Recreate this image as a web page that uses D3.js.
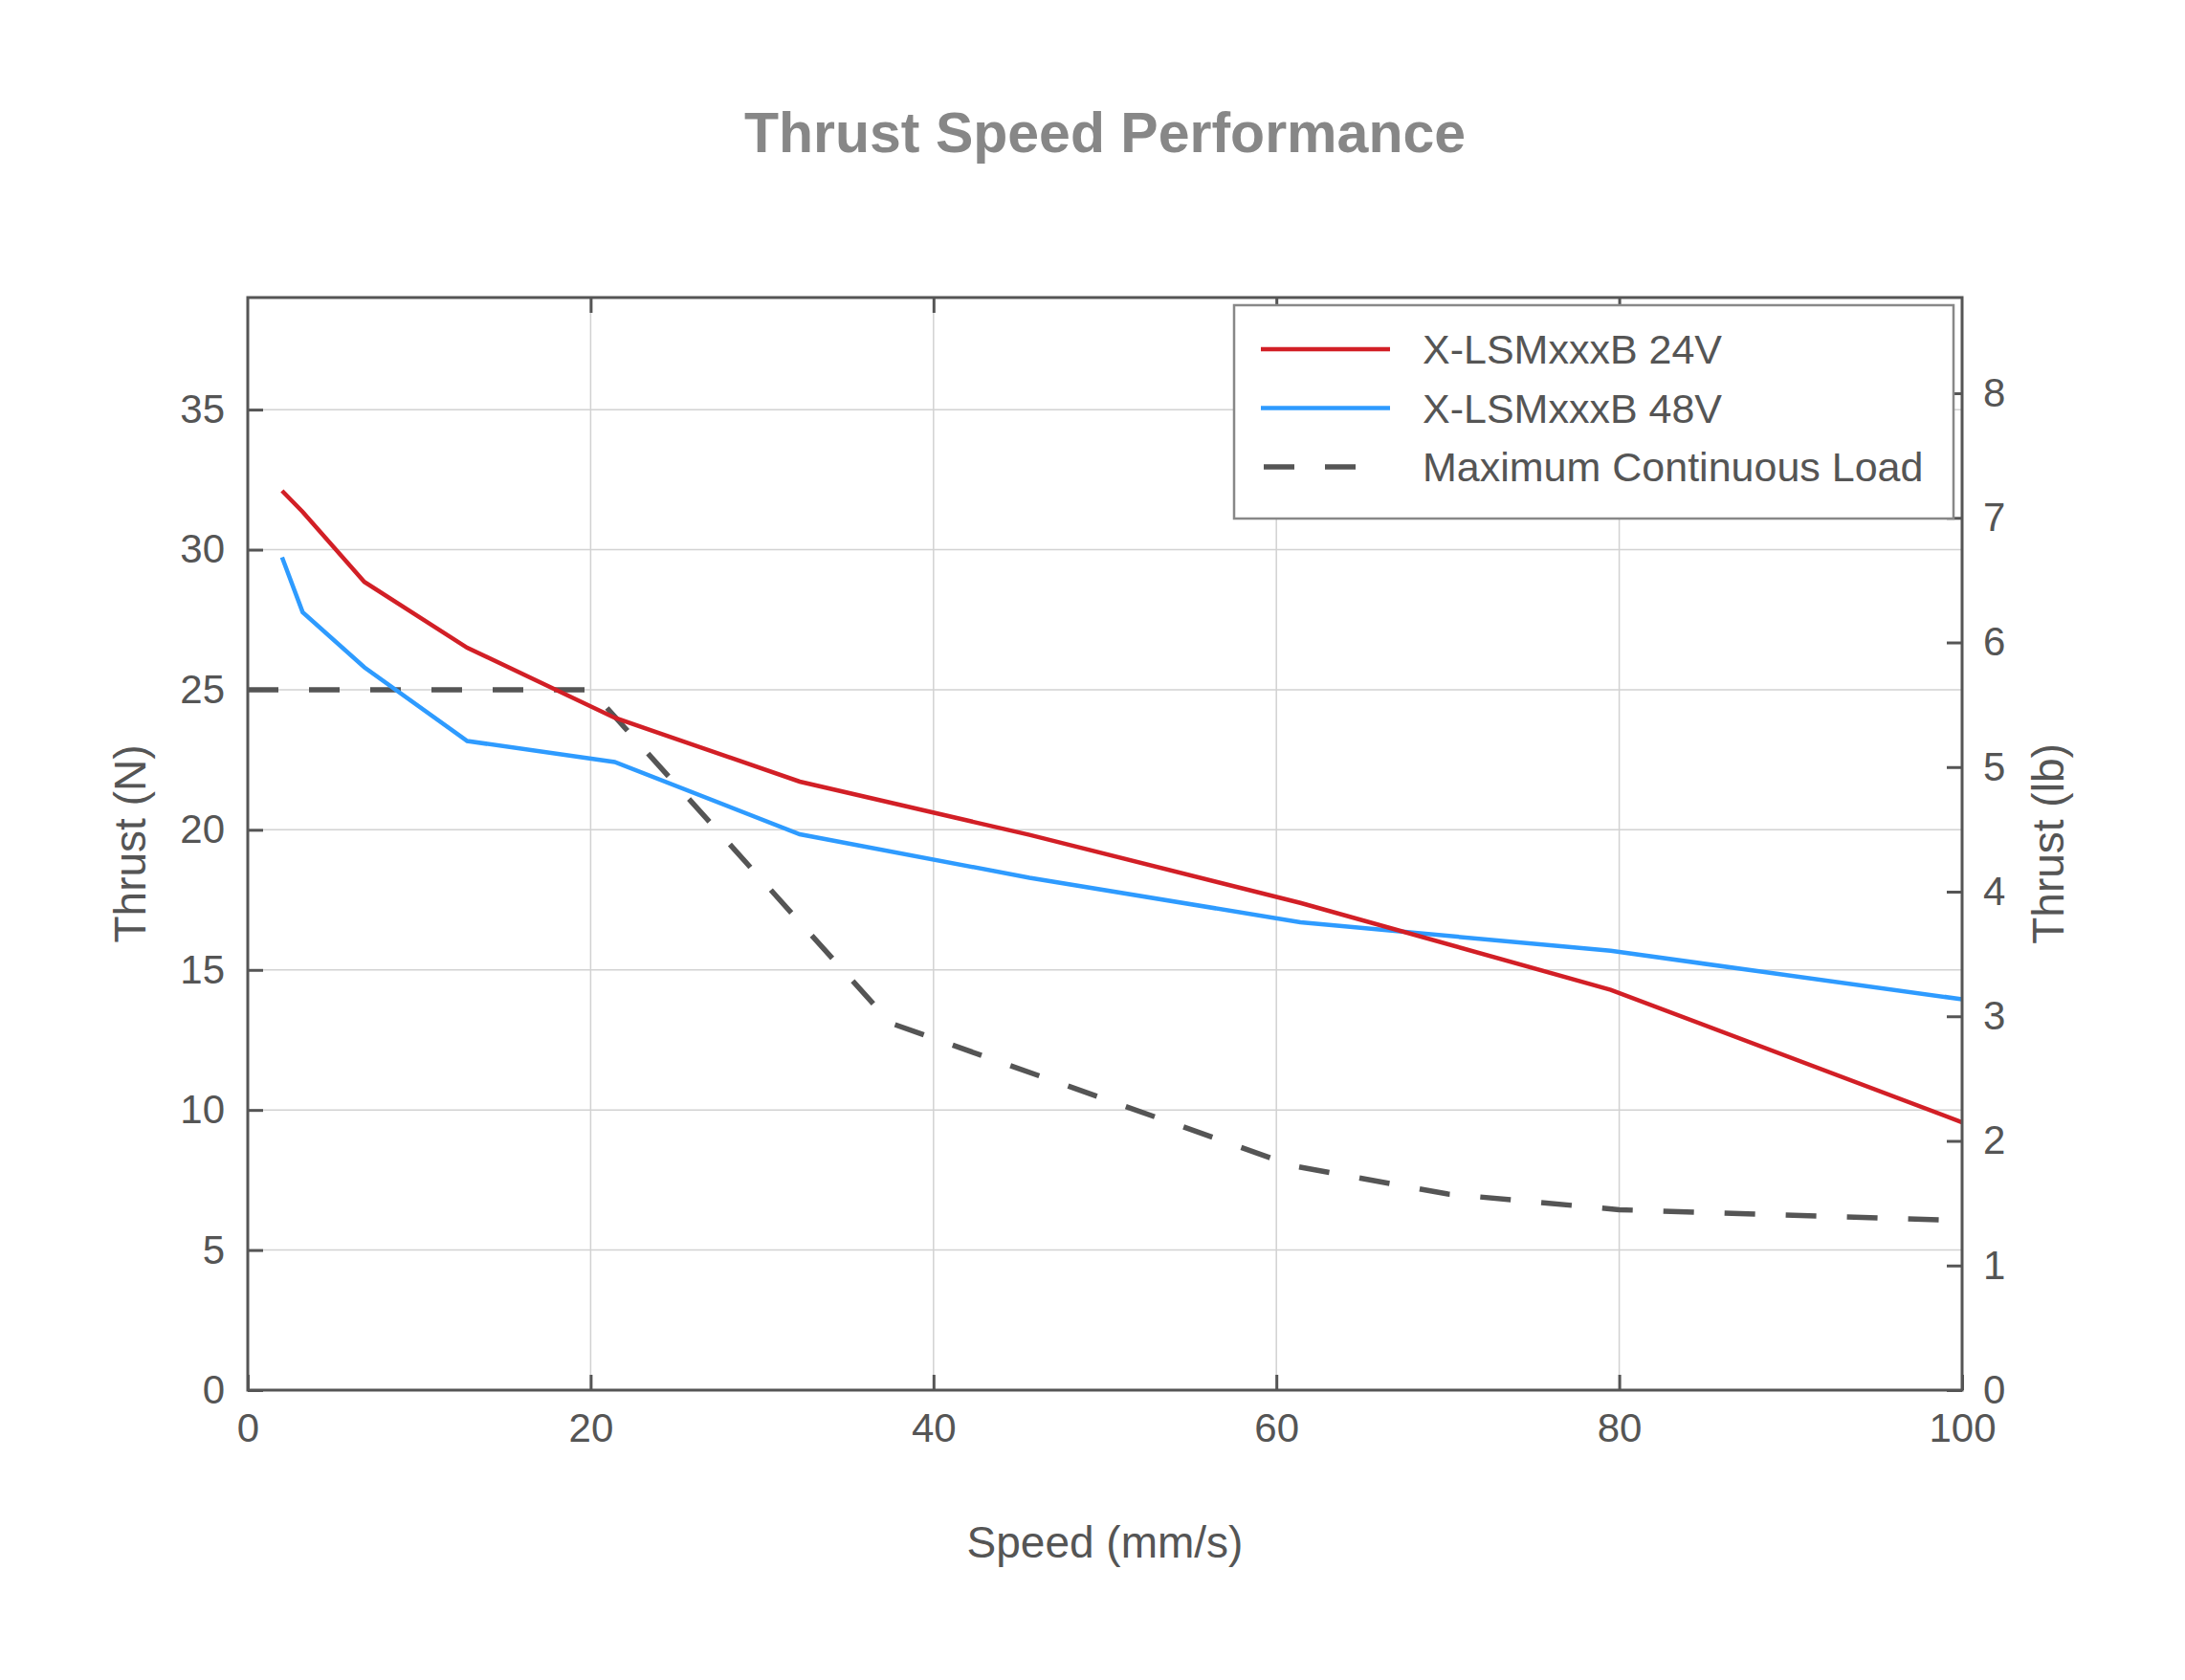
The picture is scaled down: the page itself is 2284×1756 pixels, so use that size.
<!DOCTYPE html>
<html>
<head>
<meta charset="utf-8">
<script src="https://cdn.jsdelivr.net/npm/d3@7"></script>
<style>
  body { margin: 0; background: #fff; }
  text { font-family: "Liberation Sans", Arial, sans-serif; }
</style>
</head>
<body>
<div id="chart"></div>
<script>
// speeds (mm/s) shared by both motor curves
const speeds = [2, 3.2, 6.8, 12.8, 21.4, 32.2, 45.6, 61.4, 79.5, 100];
const thrust24V = [32.1, 31.35, 28.85, 26.5, 24.0, 21.72, 19.82, 17.39, 14.29, 9.56];
const thrust48V = [29.73, 27.77, 25.8, 23.17, 22.42, 19.84, 18.29, 16.7, 15.68, 13.95];

// maximum continuous load curve
const loadSpeeds = [0, 20, 37.5, 61, 70, 80, 100];
const loadThrust = [25, 25, 13.1, 8.0, 7.0, 6.44, 6.05];

const xTicks = [0, 20, 40, 60, 80, 100];
const nTicks = [0, 5, 10, 15, 20, 25, 30, 35];
const lbTicks = [0, 1, 2, 3, 4, 5, 6, 7, 8];
const seriesNames = ["X-LSMxxxB 24V", "X-LSMxxxB 48V", "Maximum Continuous Load"];

const N_PER_LB = 4.448;

const W = 2284, H = 1756;
const margin = { top: 311, right: 233, bottom: 303, left: 259 };
const width = W - margin.left - margin.right;
const height = H - margin.top - margin.bottom;

const textColor = "#555555";
const axisColor = "#555555";

const svg = d3.select("#chart")
    .append("svg")
    .attr("width", W)
    .attr("height", H);

svg.append("rect").attr("width", W).attr("height", H).attr("fill", "#fff");

const g = svg.append("g")
    .attr("transform", `translate(${margin.left},${margin.top})`);

const x = d3.scaleLinear().domain([0, 100]).range([0, width]);
const y = d3.scaleLinear().domain([0, 39]).range([height, 0]);
const yLb = d3.scaleLinear().domain([0, 39 / N_PER_LB]).range([height, 0]);

// grid
g.append("g")
    .selectAll("line")
    .data(xTicks.slice(1, -1))
    .join("line")
    .attr("x1", d => x(d)).attr("x2", d => x(d))
    .attr("y1", 0).attr("y2", height)
    .attr("stroke", "#d2d2d2").attr("stroke-width", 1.5);

g.append("g")
    .selectAll("line")
    .data(nTicks.slice(1))
    .join("line")
    .attr("x1", 0).attr("x2", width)
    .attr("y1", d => y(d)).attr("y2", d => y(d))
    .attr("stroke", "#d2d2d2").attr("stroke-width", 1.5);

// lines
const line = d3.line().x(d => x(d[0])).y(d => y(d[1]));

g.append("path")
    .datum(loadSpeeds.map((s, i) => [s, loadThrust[i]]))
    .attr("d", line)
    .attr("fill", "none")
    .attr("stroke", "#555555")
    .attr("stroke-width", 5.5)
    .attr("stroke-dasharray", "32,32");

g.append("path")
    .datum(speeds.map((s, i) => [s, thrust48V[i]]))
    .attr("d", line)
    .attr("fill", "none")
    .attr("stroke", "#2e9bff")
    .attr("stroke-width", 4.5);

g.append("path")
    .datum(speeds.map((s, i) => [s, thrust24V[i]]))
    .attr("d", line)
    .attr("fill", "none")
    .attr("stroke", "#d21f26")
    .attr("stroke-width", 4.5);

// axes (ticks pointing inward)
const tickLen = 16;
function styleAxis(sel) {
    sel.selectAll(".domain").remove();
    sel.selectAll(".tick line").attr("stroke", axisColor).attr("stroke-width", 3);
    sel.selectAll(".tick text")
        .attr("fill", textColor)
        .style("font-size", "42px")
        .style("font-family", "'Liberation Sans', Arial, sans-serif");
}

const xAxis = g.append("g")
    .attr("transform", `translate(0,${height})`)
    .call(d3.axisBottom(x).tickValues(xTicks).tickSizeInner(-tickLen).tickSizeOuter(0).tickPadding(24));
styleAxis(xAxis);

g.append("g")
    .call(d3.axisTop(x).tickValues(xTicks.slice(1, -1)).tickSizeInner(-tickLen).tickSizeOuter(0).tickFormat(""))
    .call(styleAxis);

const yAxis = g.append("g")
    .call(d3.axisLeft(y).tickValues(nTicks).tickSizeInner(-tickLen).tickSizeOuter(0).tickPadding(24));
styleAxis(yAxis);

const yAxisR = g.append("g")
    .attr("transform", `translate(${width},0)`)
    .call(d3.axisRight(yLb).tickValues(lbTicks).tickSizeInner(-tickLen).tickSizeOuter(0).tickPadding(22));
styleAxis(yAxisR);

// frame
g.append("rect")
    .attr("width", width).attr("height", height)
    .attr("fill", "none")
    .attr("stroke", axisColor)
    .attr("stroke-width", 3);

// legend
const legend = g.append("g")
    .attr("transform", `translate(${1290 - margin.left},${319 - margin.top})`);

legend.append("rect")
    .attr("width", 752).attr("height", 223)
    .attr("fill", "#fff")
    .attr("stroke", "#888888")
    .attr("stroke-width", 2.5);

const legendStyles = [
    { color: "#d21f26", width: 4.5, dash: null, x1: 28, x2: 163 },
    { color: "#2e9bff", width: 4.5, dash: null, x1: 28, x2: 163 },
    { color: "#555555", width: 5.5, dash: "32,32", x1: 31, x2: 129 }
];

seriesNames.forEach((name, i) => {
    const ly = 46 + i * 61.5;
    legend.append("line")
        .attr("x1", legendStyles[i].x1).attr("x2", legendStyles[i].x2)
        .attr("y1", ly).attr("y2", ly)
        .attr("stroke", legendStyles[i].color)
        .attr("stroke-width", legendStyles[i].width)
        .attr("stroke-dasharray", legendStyles[i].dash);
    legend.append("text")
        .attr("x", 197).attr("y", ly)
        .attr("dy", "0.35em")
        .attr("fill", textColor)
        .style("font-size", "43px")
        .text(name);
});

// titles
svg.append("text")
    .attr("x", 1155).attr("y", 159)
    .attr("text-anchor", "middle")
    .attr("fill", "#878787")
    .style("font-size", "59px")
    .style("font-weight", "bold")
    .text("Thrust Speed Performance");

svg.append("text")
    .attr("x", 1155).attr("y", 1628)
    .attr("text-anchor", "middle")
    .attr("fill", textColor)
    .style("font-size", "46px")
    .text("Speed (mm/s)");

svg.append("text")
    .attr("transform", `translate(152,${margin.top + height / 2}) rotate(-90)`)
    .attr("text-anchor", "middle")
    .attr("fill", textColor)
    .style("font-size", "46px")
    .text("Thrust (N)");

svg.append("text")
    .attr("transform", `translate(2157,${margin.top + height / 2}) rotate(-90)`)
    .attr("text-anchor", "middle")
    .attr("fill", textColor)
    .style("font-size", "46px")
    .text("Thrust (lb)");
</script>
</body>
</html>
